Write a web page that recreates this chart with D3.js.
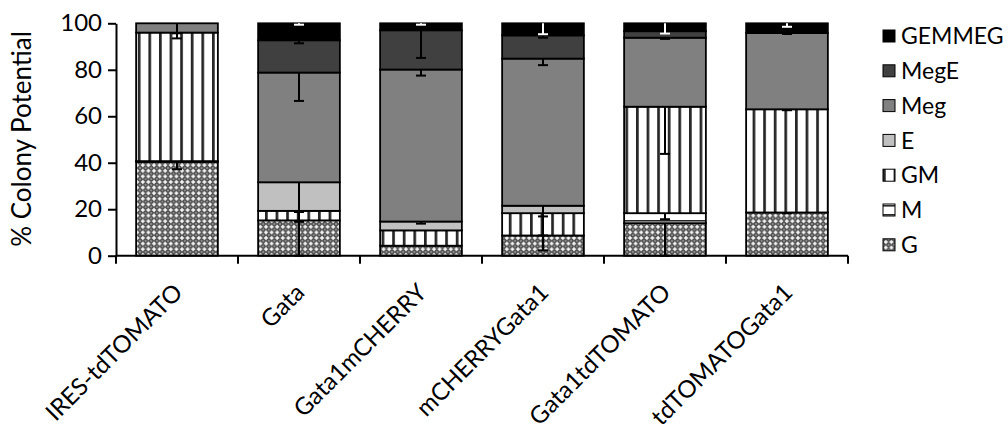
<!DOCTYPE html>
<html>
<head>
<meta charset="utf-8">
<script src="https://cdn.jsdelivr.net/npm/d3@7"></script>
<style>
  html, body { margin: 0; padding: 0; background: #fff; }
  svg { display: block; font-family: Lato, "Open Sans", sans-serif; }
</style>
</head>
<body>
<svg id="chart" width="1008" height="432"></svg>
<script>
// Colony types by construct, % of colonies (stacked bottom to top)
const categories = ["IRES-tdTOMATO", "Gata", "Gata1mCHERRY", "mCHERRYGata1", "Gata1tdTOMATO", "tdTOMATOGata1"];
const seriesNames = ["G", "M", "GM", "E", "Meg", "MegE", "GEMMEG"];

const G      = [40.4, 15.2,  4.3,  8.7, 14.0, 18.6];
const M      = [ 0.3,  0.0,  0.0,  0.0,  4.3,  0.0];
const GM     = [55.3,  4.1,  6.6,  9.6, 45.8, 44.4];
const E      = [ 0.0, 12.3,  3.8,  3.2,  0.0,  0.0];
const Meg    = [ 4.0, 47.2, 65.4, 63.3, 29.7, 32.8];
const MegE   = [ 0.0, 13.9, 16.9, 10.0,  2.8,  0.0];
const GEMMEG = [ 0.0,  7.3,  3.0,  5.2,  3.4,  4.2];

// Error (drawn downward from the top of each segment)
const G_err      = [3.2, 15.2,  0.0, 6.4, 14.0, 0.3];
const M_err      = [0.0,  0.0,  0.0, 0.0,  2.6, 0.0];
const GM_err     = [2.5,  0.5,  0.0, 9.6, 20.3, 0.4];
const E_err      = [0.0, 17.0,  0.9, 4.6,  0.0, 0.0];
const Meg_err    = [4.3, 12.2,  2.6, 2.8,  0.5, 0.4];
const MegE_err   = [0.0,  1.3, 11.9, 1.0,  0.8, 0.0];
const GEMMEG_err = [0.0,  0.6,  0.6, 4.7,  4.4, 1.5];

const yTicks = [0, 20, 40, 60, 80, 100];

const values = { G, M, GM, E, Meg, MegE, GEMMEG };
const errors = { G: G_err, M: M_err, GM: GM_err, E: E_err, Meg: Meg_err, MegE: MegE_err, GEMMEG: GEMMEG_err };

const rows = categories.map((c, i) => {
  const r = { cat: c };
  seriesNames.forEach(s => r[s] = values[s][i]);
  return r;
});

const svg = d3.select("#chart");
const defs = svg.append("defs");

// Fill patterns
const gs = 5.6;
const pG = defs.append("pattern").attr("id", "pat-G").attr("patternUnits", "userSpaceOnUse")
  .attr("width", gs).attr("height", gs);
pG.append("rect").attr("width", gs).attr("height", gs).attr("fill", "#4f4f4f");
pG.append("rect").attr("x", gs / 2 - 2).attr("y", gs / 2 - 0.7).attr("width", 4).attr("height", 1.4).attr("fill", "#fff");
pG.append("rect").attr("x", gs / 2 - 0.7).attr("y", gs / 2 - 2).attr("width", 1.4).attr("height", 4).attr("fill", "#fff");
pG.append("rect").attr("x", -0.6).attr("y", -0.6).attr("width", 1.2).attr("height", 1.2).attr("fill", "#e0e0e0");
pG.append("rect").attr("x", gs - 0.6).attr("y", gs - 0.6).attr("width", 1.2).attr("height", 1.2).attr("fill", "#e0e0e0");
pG.append("rect").attr("x", gs - 0.6).attr("y", -0.6).attr("width", 1.2).attr("height", 1.2).attr("fill", "#e0e0e0");
pG.append("rect").attr("x", -0.6).attr("y", gs - 0.6).attr("width", 1.2).attr("height", 1.2).attr("fill", "#e0e0e0");

const pGM = defs.append("pattern").attr("id", "pat-GM").attr("patternUnits", "userSpaceOnUse")
  .attr("width", 10.6).attr("height", 10);
pGM.append("rect").attr("width", 10.6).attr("height", 10).attr("fill", "#fff");
pGM.append("rect").attr("x", 0).attr("y", 0).attr("width", 2.7).attr("height", 10).attr("fill", "#262626");

const pM = defs.append("pattern").attr("id", "pat-M").attr("patternUnits", "userSpaceOnUse")
  .attr("width", 10).attr("height", 9);
pM.append("rect").attr("width", 10).attr("height", 9).attr("fill", "#fff");
pM.append("rect").attr("x", 0).attr("y", 4).attr("width", 10).attr("height", 1.6).attr("fill", "#2a2a2a");

const fills = {
  G: "url(#pat-G)", M: "url(#pat-M)", GM: "url(#pat-GM)",
  E: "#c0c0c0", Meg: "#808080", MegE: "#404040", GEMMEG: "#000000"
};
const errColor = { GEMMEG: "#ffffff" };

const x = d3.scaleBand().domain(categories).range([116, 848]).paddingInner(0.33).paddingOuter(0.165);
const y = d3.scaleLinear().domain([0, 100]).range([255.7, 23.3]);

const stacked = d3.stack().keys(seriesNames)(rows);

// Bars
const layers = svg.append("g").selectAll("g").data(stacked).join("g")
  .attr("fill", d => fills[d.key]);
layers.selectAll("rect").data(d => d).join("rect")
  .attr("x", d => x(d.data.cat))
  .attr("width", x.bandwidth())
  .attr("y", d => y(d[1]))
  .attr("height", d => Math.max(0, y(d[0]) - y(d[1])))
  .attr("stroke", "#000").attr("stroke-width", 1.8);

// Error bars
const errG = svg.append("g");
stacked.forEach(layer => {
  const key = layer.key;
  layer.forEach((d, i) => {
    const e = errors[key][i];
    if (!e) return;
    const cx = x(d.data.cat) + x.bandwidth() / 2;
    const top = d[1], low = Math.max(0, top - e);
    const col = errColor[key] || "#000";
    errG.append("line").attr("x1", cx).attr("x2", cx).attr("y1", y(top)).attr("y2", y(low))
      .attr("stroke", col).attr("stroke-width", 2);
    errG.append("line").attr("x1", cx - 5).attr("x2", cx + 5).attr("y1", y(low)).attr("y2", y(low))
      .attr("stroke", col).attr("stroke-width", 2);
  });
});

// Y axis
const yAxis = svg.append("g").attr("transform", "translate(116,0)")
  .call(d3.axisLeft(y).tickValues(yTicks).tickSize(8).tickPadding(6).tickSizeOuter(0));
yAxis.select(".domain").attr("stroke", "#000").attr("stroke-width", 2);
yAxis.selectAll(".tick line").attr("stroke", "#000").attr("stroke-width", 2);
yAxis.selectAll(".tick text").attr("font-size", 24).attr("font-family", "Lato, sans-serif").attr("fill", "#000");

// X axis with ticks on band boundaries
const step = x.step();
const bounds = categories.map(c => x(c) - x.paddingInner() * step / 2).concat([848]);
const xg = svg.append("g");
xg.append("line").attr("x1", 116).attr("x2", 848).attr("y1", y(0)).attr("y2", y(0))
  .attr("stroke", "#000").attr("stroke-width", 2);
xg.selectAll("line.tk").data(bounds).join("line").attr("class", "tk")
  .attr("x1", d => d).attr("x2", d => d).attr("y1", y(0)).attr("y2", y(0) + 8)
  .attr("stroke", "#000").attr("stroke-width", 2);
xg.selectAll("text").data(categories).join("text")
  .attr("transform", d => `translate(${x(d) + x.bandwidth() / 2 + 7},294) rotate(-45)`)
  .attr("text-anchor", "end")
  .attr("font-size", 24).attr("fill", "#000")
  .text(d => d);

// Y title
svg.append("text").attr("transform", "translate(31,139) rotate(-90)")
  .attr("text-anchor", "middle").attr("font-size", 26).attr("fill", "#000")
  .text("% Colony Potential");

// Legend (top to bottom: last series first)
const legendNames = seriesNames.slice().reverse();
const lg = svg.append("g").selectAll("g").data(legendNames).join("g")
  .attr("transform", (d, i) => `translate(883,${36 + i * 34.8})`);
lg.append("rect").attr("x", 0).attr("y", -6).attr("width", 12).attr("height", 12)
  .attr("fill", d => fills[d]).attr("stroke", "#000").attr("stroke-width", 1);
lg.append("text").attr("x", 18).attr("y", 0).attr("dy", "0.36em")
  .attr("font-size", 23).attr("fill", "#000").text(d => d);
</script>
</body>
</html>
